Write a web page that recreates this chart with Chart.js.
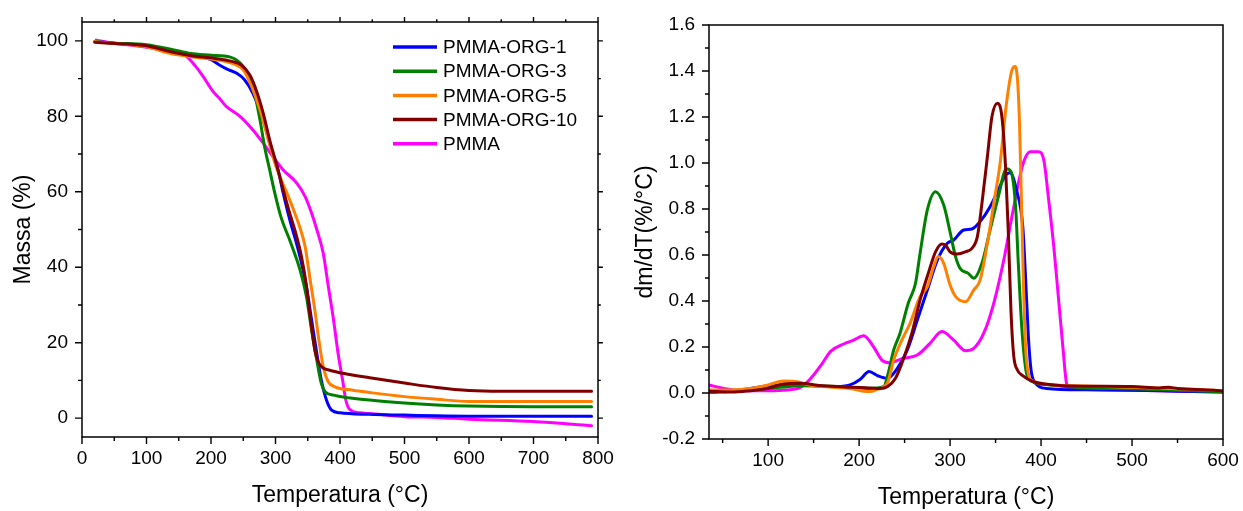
<!DOCTYPE html>
<html>
<head>
<meta charset="utf-8">
<script src="https://cdn.jsdelivr.net/npm/chart.js@4.4.0/dist/chart.umd.min.js"></script>
<style>
  html, body { margin: 0; padding: 0; background: #fff; }
  #wrap { position: relative; width: 1243px; height: 511px; overflow: hidden; background: #fff; }
  canvas { position: absolute; top: 0; }
  #tga { left: 0; }
  #dtg { left: 620px; }
</style>
</head>
<body>
<div id="wrap">
  <canvas id="tga" width="620" height="511"></canvas>
  <canvas id="dtg" width="623" height="511"></canvas>
</div>
<script>
// ---- series ----
const SERIES_NAMES  = ['PMMA-ORG-1', 'PMMA-ORG-3', 'PMMA-ORG-5', 'PMMA-ORG-10', 'PMMA'];
const SERIES_COLORS = ['#0000ff', '#008000', '#ff8000', '#800000', '#ff00ff'];
const DRAW_ORDER    = [3, 2, 1, 0, 4];   // lower = painted later (on top)

// ---- TGA: mass (%) vs temperature (°C) ----
const TGA_X_TICKS = [0, 100, 200, 300, 400, 500, 600, 700, 800];
const TGA_X_MINOR = [50, 150, 250, 350, 450, 550, 650, 750];
const TGA_Y_TICKS = [0, 20, 40, 60, 80, 100];
const TGA_Y_MINOR = [10, 30, 50, 70, 90];

const TGA_T_ORG1 = [20, 50, 100, 150, 175, 200, 213, 225, 240, 252, 265, 281, 294, 304, 312, 323, 331, 339, 348, 356, 364, 371, 379, 387, 400, 446, 500, 550, 600, 700, 790];
const TGA_M_ORG1 = [99.8, 99.4, 98.6, 97.1, 96.2, 95.0, 93.6, 92.5, 91.4, 89.7, 86.1, 79.0, 71.0, 65.8, 59.6, 52.0, 47.3, 42.0, 34.8, 26.0, 17.2, 10.1, 4.8, 2.1, 1.4, 1.0, 0.8, 0.6, 0.5, 0.5, 0.5];

const TGA_T_ORG3 = [20, 50, 100, 150, 172, 200, 230, 250, 265, 276, 283, 291, 299, 309, 322, 338, 348, 356, 364, 371, 377, 390, 446, 500, 550, 600, 700, 790];
const TGA_M_ORG3 = [99.8, 99.4, 99.0, 97.3, 96.6, 96.2, 95.7, 93.2, 87.9, 79.0, 72.0, 65.8, 59.6, 53.0, 47.2, 39.3, 32.2, 23.3, 15.4, 9.2, 7.0, 6.1, 4.8, 4.0, 3.5, 3.2, 3.0, 3.0];

const TGA_T_ORG5 = [20, 50, 100, 136, 172, 200, 234, 250, 263, 276, 289, 299, 309, 320, 330, 337, 346, 353, 361, 368, 374, 382, 392, 420, 446, 500, 550, 600, 700, 790];
const TGA_M_ORG5 = [99.8, 99.3, 98.4, 96.7, 95.7, 95.2, 94.0, 92.3, 87.9, 81.7, 73.7, 67.6, 63.1, 58.7, 54.3, 51.0, 45.4, 37.5, 28.6, 19.8, 13.6, 9.6, 8.3, 7.4, 6.8, 5.7, 5.0, 4.4, 4.4, 4.4];

const TGA_T_ORG10 = [20, 50, 100, 136, 172, 200, 234, 247, 260, 270, 281, 291, 301, 312, 322, 331, 340, 348, 354, 361, 366, 372, 384, 410, 446, 500, 550, 600, 650, 700, 790];
const TGA_M_ORG10 = [99.6, 99.3, 98.7, 97.2, 96.0, 95.5, 94.5, 93.6, 91.0, 87.0, 80.8, 73.7, 67.6, 60.5, 54.3, 49.3, 43.0, 35.0, 26.5, 18.0, 15.0, 13.5, 12.7, 11.7, 10.7, 9.3, 8.1, 7.3, 7.1, 7.1, 7.1];

const TGA_T_PMMA = [22, 50, 100, 150, 162, 175, 188, 203, 213, 219, 224, 245, 265, 281, 296, 312, 333, 346, 356, 364, 374, 382, 390, 397, 404, 409, 415, 431, 446, 500, 550, 600, 700, 790];
const TGA_M_PMMA = [100.2, 99.4, 98.3, 96.8, 95.9, 93.5, 90.5, 86.6, 84.8, 83.5, 82.6, 80.0, 76.4, 72.9, 69.3, 65.8, 62.3, 58.7, 54.3, 50.0, 43.7, 34.8, 26.0, 17.2, 10.1, 4.8, 2.3, 1.4, 1.2, 0.4, 0.2, -0.3, -0.9, -2.0];

// ---- DTG: dm/dT (%/°C) vs temperature (°C) ----
const DTG_X_TICKS = [100, 200, 300, 400, 500, 600];
const DTG_X_MINOR = [50, 150, 250, 350, 450, 550];
const DTG_Y_TICKS = [-0.2, 0.0, 0.2, 0.4, 0.6, 0.8, 1.0, 1.2, 1.4, 1.6];
const DTG_Y_MINOR = [-0.1, 0.1, 0.3, 0.5, 0.7, 0.9, 1.1, 1.3, 1.5];

const DTG_T_ORG1 = [35, 55, 81, 99, 117, 136, 172, 190, 201, 211, 221, 231, 242, 253, 264, 275, 286, 297, 304, 315, 324, 333, 344, 353, 361, 366, 373, 380, 383, 386, 389, 394, 406, 450, 500, 550, 600];
const DTG_D_ORG1 = [0.003, 0.006, 0.02, 0.03, 0.035, 0.035, 0.027, 0.035, 0.059, 0.093, 0.074, 0.064, 0.107, 0.187, 0.317, 0.448, 0.578, 0.651, 0.665, 0.709, 0.713, 0.745, 0.81, 0.883, 0.948, 0.958, 0.883, 0.72, 0.5, 0.25, 0.1, 0.042, 0.02, 0.014, 0.012, 0.008, 0.004];

const DTG_T_ORG3 = [35, 55, 80, 100, 121, 136, 160, 190, 210, 227, 232, 238, 245, 254, 262, 267, 275, 284, 293, 300, 306, 311, 320, 326, 335, 344, 353, 362, 367, 372, 375, 379, 384, 390, 410, 450, 500, 550, 600];
const DTG_D_ORG3 = [0.008, 0.01, 0.015, 0.02, 0.027, 0.032, 0.03, 0.025, 0.02, 0.027, 0.086, 0.187, 0.26, 0.39, 0.477, 0.607, 0.796, 0.875, 0.817, 0.70, 0.593, 0.542, 0.52, 0.499, 0.564, 0.709, 0.853, 0.975, 0.962, 0.81, 0.564, 0.274, 0.086, 0.05, 0.035, 0.022, 0.018, 0.012, 0.005];

const DTG_T_ORG5 = [35, 55, 80, 100, 117, 130, 145, 170, 190, 205, 212, 220, 231, 238, 247, 256, 267, 275, 282, 287, 293, 300, 306, 317, 326, 333, 341, 348, 355, 362, 368, 371.6, 374.5, 376.5, 378.5, 380.5, 383, 386, 390, 399, 450, 500, 550, 600];
const DTG_D_ORG5 = [0.013, 0.013, 0.02, 0.035, 0.052, 0.05, 0.035, 0.025, 0.02, 0.008, 0.006, 0.016, 0.042, 0.143, 0.23, 0.303, 0.419, 0.462, 0.549, 0.593, 0.564, 0.47, 0.42, 0.397, 0.448, 0.491, 0.651, 0.824, 0.999, 1.26, 1.404, 1.42, 1.34, 1.15, 0.82, 0.5, 0.2, 0.085, 0.055, 0.042, 0.03, 0.025, 0.018, 0.01];

const DTG_T_ORG10 = [35, 60, 80, 100, 117, 135, 160, 190, 212, 223, 231, 240, 249, 258, 267, 276, 284, 291, 295, 300, 308, 317, 324, 330, 335, 341, 346, 352, 357, 361, 364, 367, 370, 374, 379, 392, 414, 432, 500, 530, 540, 550, 590, 600];
const DTG_D_ORG10 = [0.008, 0.004, 0.01, 0.02, 0.039, 0.042, 0.031, 0.025, 0.022, 0.02, 0.027, 0.064, 0.151, 0.26, 0.404, 0.52, 0.614, 0.648, 0.643, 0.614, 0.604, 0.614, 0.629, 0.68, 0.824, 1.027, 1.201, 1.26, 1.2, 0.98, 0.7, 0.35, 0.16, 0.1, 0.078, 0.049, 0.035, 0.03, 0.028, 0.022, 0.025, 0.02, 0.012, 0.008];

const DTG_T_PMMA = [35, 51, 70, 99, 121, 136, 147, 158, 169, 183, 194, 205, 216, 225, 233, 249, 264, 278, 291, 304, 317, 326, 337, 348, 359, 368, 375, 381, 388, 397, 403, 408, 414, 419, 424, 428, 432, 450, 500, 600];
const DTG_D_PMMA = [0.035, 0.02, 0.01, 0.01, 0.013, 0.025, 0.064, 0.12, 0.182, 0.213, 0.23, 0.249, 0.2, 0.143, 0.132, 0.151, 0.165, 0.216, 0.267, 0.23, 0.184, 0.194, 0.26, 0.39, 0.578, 0.767, 0.91, 1.006, 1.049, 1.049, 1.013, 0.853, 0.636, 0.419, 0.2, 0.042, 0.02, 0.015, 0.012, 0.004];

// ---- helpers ----
const FONT = '"Liberation Sans", Arial, Helvetica, sans-serif';

function points(xs, ys) {
  return xs.map((x, i) => ({ x: x, y: ys[i] }));
}

function makeDatasets(pairs) {
  return pairs.map((p, i) => ({
    label: SERIES_NAMES[i],
    data: points(p[0], p[1]),
    borderColor: SERIES_COLORS[i],
    backgroundColor: SERIES_COLORS[i],
    borderWidth: 3,
    pointRadius: 0,
    pointHoverRadius: 0,
    fill: false,
    cubicInterpolationMode: 'monotone',
    borderJoinStyle: 'round',
    borderCapStyle: 'round',
    order: DRAW_ORDER[i]
  }));
}

// Box frame plus major/minor tick marks drawn outward from the plot area
const frameTicks = {
  id: 'frameTicks',
  afterDraw(chart, args, o) {
    const ctx = chart.ctx;
    const a = chart.chartArea;
    const sx = chart.scales.x, sy = chart.scales.y;
    ctx.save();
    ctx.strokeStyle = '#000';
    ctx.lineWidth = 1.4;
    ctx.lineCap = 'butt';
    ctx.beginPath();
    const seg = (x1, y1, x2, y2) => { ctx.moveTo(x1, y1); ctx.lineTo(x2, y2); };
    const xMarks = o.xMajor.map(v => [v, o.major]).concat(o.xMinor.map(v => [v, o.minor]));
    const yMarks = o.yMajor.map(v => [v, o.major]).concat(o.yMinor.map(v => [v, o.minor]));
    xMarks.forEach(([v, len]) => {
      const p = sx.getPixelForValue(v);
      if (p < a.left - 0.5 || p > a.right + 0.5) return;
      seg(p, a.bottom, p, a.bottom + len);
      if (o.mirror) seg(p, a.top, p, a.top - len * o.mirrorScale);
    });
    yMarks.forEach(([v, len]) => {
      const p = sy.getPixelForValue(v);
      if (p < a.top - 0.5 || p > a.bottom + 0.5) return;
      seg(a.left, p, a.left - len, p);
      if (o.mirror) seg(a.right, p, a.right + len * o.mirrorScale, p);
    });
    ctx.stroke();
    ctx.lineWidth = 1.5;
    ctx.strokeRect(a.left, a.top, a.right - a.left, a.bottom - a.top);
    ctx.restore();
  }
};

// Legend drawn inside the plot area, one row per series
const inlineLegend = {
  id: 'inlineLegend',
  afterDraw(chart, args, o) {
    if (!o.show) return;
    const ctx = chart.ctx;
    ctx.save();
    ctx.font = o.size + 'px ' + FONT;
    ctx.textBaseline = 'middle';
    ctx.textAlign = 'left';
    ctx.fillStyle = '#000';
    chart.data.datasets.forEach((ds, i) => {
      const y = o.y + i * o.row;
      ctx.strokeStyle = ds.borderColor;
      ctx.lineWidth = 3.5;
      ctx.lineCap = 'butt';
      ctx.beginPath();
      ctx.moveTo(o.x, y);
      ctx.lineTo(o.x + o.line, y);
      ctx.stroke();
      ctx.fillText(ds.label, o.x + o.line + o.gap, y + 1);
    });
    ctx.restore();
  }
};

function buildOptions(c) {
  return {
    responsive: false,
    animation: false,
    devicePixelRatio: 1,
    events: [],
    layout: { padding: { left: 0, top: c.top, right: c.right, bottom: 0 } },
    plugins: {
      legend: { display: false },
      tooltip: { enabled: false },
      frameTicks: {
        xMajor: c.xTicks, xMinor: c.xMinor, yMajor: c.yTicks, yMinor: c.yMinor,
        major: 7, minor: 4, mirror: c.mirror, mirrorScale: 0.7
      },
      inlineLegend: c.legend
    },
    scales: {
      x: {
        type: 'linear',
        min: c.xMin, max: c.xMax,
        afterBuildTicks: s => { s.ticks = c.xTicks.map(v => ({ value: v })); },
        afterFit: s => { s.height = c.xH; s.paddingLeft = 0; s.paddingRight = 0; },
        grid: { display: false, drawTicks: false },
        border: { display: false },
        ticks: {
          padding: 10, color: '#000', autoSkip: false, maxRotation: 0,
          font: { family: FONT, size: 19 },
          callback: v => c.xFmt(v)
        },
        title: {
          display: true, text: c.xTitle, color: '#000',
          font: { family: FONT, size: 23 },
          padding: { top: 0, bottom: c.xTitlePad }
        }
      },
      y: {
        type: 'linear',
        min: c.yMin, max: c.yMax,
        afterBuildTicks: s => { s.ticks = c.yTicks.map(v => ({ value: v })); },
        afterFit: s => { s.width = c.yW; s.paddingTop = 0; s.paddingBottom = 0; },
        grid: { display: false, drawTicks: false },
        border: { display: false },
        ticks: {
          padding: 14, color: '#000', autoSkip: false,
          font: { family: FONT, size: 19 },
          callback: v => c.yFmt(v)
        },
        title: {
          display: true, text: c.yTitle, color: '#000',
          font: { family: FONT, size: 23 },
          padding: { top: c.yTitlePad, bottom: 0 }
        }
      }
    }
  };
}

// ---- left panel: TGA ----
new Chart(document.getElementById('tga'), {
  type: 'line',
  data: {
    datasets: makeDatasets([
      [TGA_T_ORG1, TGA_M_ORG1],
      [TGA_T_ORG3, TGA_M_ORG3],
      [TGA_T_ORG5, TGA_M_ORG5],
      [TGA_T_ORG10, TGA_M_ORG10],
      [TGA_T_PMMA, TGA_M_PMMA]
    ])
  },
  options: buildOptions({
    top: 22, right: 22, xH: 74, yW: 82,
    xMin: 0, xMax: 800, yMin: -5, yMax: 105,
    xTicks: TGA_X_TICKS, xMinor: TGA_X_MINOR, yTicks: TGA_Y_TICKS, yMinor: TGA_Y_MINOR,
    xFmt: v => String(v), yFmt: v => String(v),
    xTitle: 'Temperatura (°C)', yTitle: 'Massa (%)',
    xTitlePad: 2, yTitlePad: 10,
    mirror: true,
    legend: { show: true, x: 393, y: 47, line: 44, gap: 6, row: 24.2, size: 19 }
  }),
  plugins: [frameTicks, inlineLegend]
});

// ---- right panel: DTG ----
new Chart(document.getElementById('dtg'), {
  type: 'line',
  data: {
    datasets: makeDatasets([
      [DTG_T_ORG1, DTG_D_ORG1],
      [DTG_T_ORG3, DTG_D_ORG3],
      [DTG_T_ORG5, DTG_D_ORG5],
      [DTG_T_ORG10, DTG_D_ORG10],
      [DTG_T_PMMA, DTG_D_PMMA]
    ])
  },
  options: buildOptions({
    top: 25, right: 20, xH: 72, yW: 89,
    xMin: 35, xMax: 600, yMin: -0.2, yMax: 1.6,
    xTicks: DTG_X_TICKS, xMinor: DTG_X_MINOR, yTicks: DTG_Y_TICKS, yMinor: DTG_Y_MINOR,
    xFmt: v => String(v), yFmt: v => v.toFixed(1),
    xTitle: 'Temperatura (°C)', yTitle: 'dm/dT(%/°C)',
    xTitlePad: 0, yTitlePad: 12,
    mirror: false,
    legend: { show: false }
  }),
  plugins: [frameTicks, inlineLegend]
});
</script>
</body>
</html>
